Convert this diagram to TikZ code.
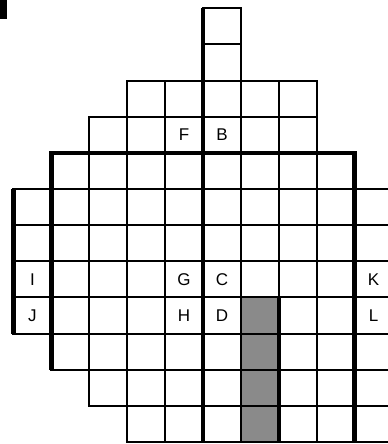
\documentclass[tikz,border=0pt]{standalone}
\usepackage{fontspec}
\setmainfont{Liberation Sans}
\usetikzlibrary{positioning}
\definecolor{cellgray}{RGB}{138,138,138}

\begin{document}
\begin{tikzpicture}[x=37.9pt,y=36.15pt,
    gridline/.style={line width=2pt,line cap=rect,step=1},
    border/.style={line width=4.6pt,line join=miter},
    lbl/.style={font=\fontsize{17}{19}\selectfont}]
  \useasboundingbox (-0.356,-0.055) rectangle (9.881,12.227);
  \clip (-0.356,-0.055) rectangle (9.881,12.227);
  % corner of the panel letter
  \fill (-0.356,12.3) rectangle (-0.172,11.715);
  % shaded column
  \fill[cellgray] (6,0) rectangle (7,4);
  % cells, row by row from the top
  \draw[gridline] (5,10) grid (6,12);
  \draw[gridline] (3,9) grid (8,10);
  \draw[gridline] (2,8) grid (8,9);
  \draw[gridline] (1,7) grid (9,8);
  \draw[gridline] (0,3) grid (10,7);
  \draw[gridline] (1,2) grid (10,3);
  \draw[gridline] (2,1) grid (10,2);
  \draw[gridline] (3,0) grid (10,1);
  % heavy lines
  \draw[border] (5,0) -- (5,12);
  \draw[border] (1,2) -- (1,8) -- (9,8) -- (9,0);
  \draw[border] (0,3) -- (0,7);
  \draw[line width=3.6pt] (7,0) -- (7,4);
  % labels
  \node[lbl] (F) at (4.5,8.5) {F};
  \node[lbl] (B) at (5.5,8.5) {B};
  \node[lbl] (I) at (0.5,4.5) {I};
  \node[lbl] (G) at (4.5,4.5) {G};
  \node[lbl] (C) at (5.5,4.5) {C};
  \node[lbl] (K) at (9.5,4.5) {K};
  \node[lbl] (J) at (0.5,3.5) {J};
  \node[lbl] (H) at (4.5,3.5) {H};
  \node[lbl] (D) at (5.5,3.5) {D};
  \node[lbl] (L) at (9.5,3.5) {L};
\end{tikzpicture}
\end{document}
